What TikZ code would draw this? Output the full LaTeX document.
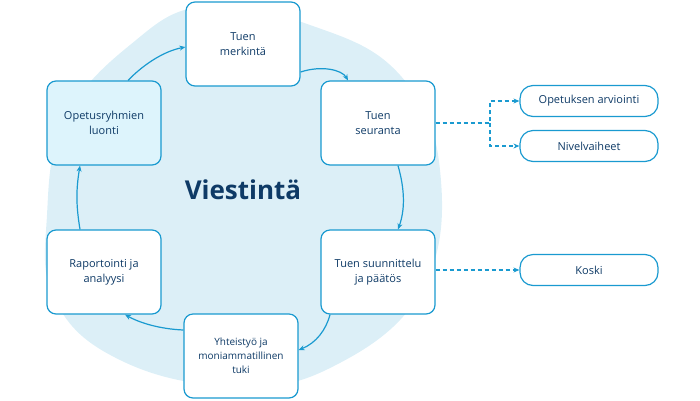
\documentclass[tikz,border=0pt]{standalone}
\usepackage{fontspec}
\setmainfont{Open Sans}
\usetikzlibrary{arrows.meta}
\definecolor{blob}{HTML}{DCEFF7}
\definecolor{bord}{HTML}{1A9AD0}
\definecolor{navy}{HTML}{0E3A66}
\definecolor{lfill}{HTML}{DDF4FC}
\tikzset{
 box/.style={draw=bord,line width=1.2pt,rounded corners=9pt,fill=white,minimum width=114pt,minimum height=84pt,align=center,text=navy,font=\fontsize{11}{15}\selectfont},
 pill/.style={draw=bord,line width=1.2pt,rounded corners=13pt,fill=white,minimum width=138pt,minimum height=31pt,text=navy,font=\fontsize{11}{14}\selectfont},
 flow/.style={draw=bord,line width=1.2pt,-{Stealth[length=6pt,width=5pt]}},
 dflow/.style={draw=bord,line width=1.1pt,dashed,dash pattern=on 4pt off 3pt,-{Stealth[length=6pt,width=5pt]}}
}
\begin{document}
\begin{tikzpicture}[x=1pt,y=-1pt]
\useasboundingbox (0,0) rectangle (700,400);
\fill[blob] plot[smooth cycle,tension=0.7] coordinates{(47,215) (65,120) (130,45) (205,6) (310,25) (400,75) (440,170) (422,290) (330,368) (230,386) (120,360) (55,300)};
\node[box] (m) at (243,44) {Tuen\\merkintä};
\node[box] (s) at (378,123) {Tuen\\seuranta};
\node[box] (p) at (378,272) {Tuen suunnittelu\\ja päätös};
\node[box,font=\fontsize{10}{14}\selectfont] (y) at (241,356) {Yhteistyö ja\\moniammatillinen\\tuki};
\node[box] (r) at (104,272) {Raportointi ja\\analyysi};
\node[box,fill=lfill] (o) at (104,123) {Opetusryhmien\\luonti};
\node[font=\bfseries\fontsize{26}{30}\selectfont,text=navy] (v) at (243,190) {Viestintä};
\node[pill] (a) at (589,101) {Opetuksen arviointi};
\node[pill] (n) at (589,146) {Nivelvaiheet};
\node[pill] (k) at (589,270) {Koski};
\draw[flow] (m.east |- 0,72) .. controls (322,65) and (342,70) .. (s.north -| 348,0);
\draw[flow] (s.south -| 398,0) .. controls (405,190) and (405,210) .. (p.north -| 398,0);
\draw[flow] (p.south -| 330,0) .. controls (326,330) and (316,343) .. (y.east |- 0,350);
\draw[flow] (y.west |- 0,330) .. controls (160,329) and (140,323) .. (r.south -| 125,0);
\draw[flow] (r.north -| 80,0) .. controls (76,205) and (76,190) .. (o.south -| 80,0);
\draw[flow] (o.north -| 128,0) .. controls (145,63) and (165,51) .. (m.west |- 0,47);
\coordinate (j) at (490,123);
\draw[dflow] (s.east) -- (j) |- (a.west);
\draw[dflow] (j) |- (n.west);
\draw[dflow] (p.east |- k) -- (k.west);
\end{tikzpicture}
\end{document}
